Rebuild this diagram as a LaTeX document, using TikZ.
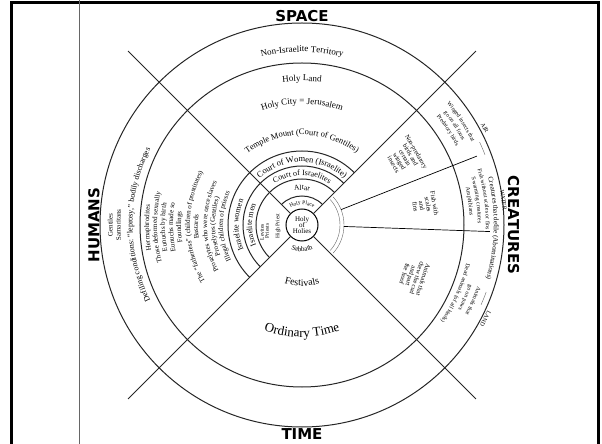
\documentclass[tikz,border=0pt]{standalone}
\usepackage{fontspec}
\setmainfont{Liberation Serif}
\newfontfamily\headfont{DejaVu Sans}
\usetikzlibrary{decorations.text}
\newcommand\fs[1]{\fontsize{#1}{#1}\selectfont}
% clockwise text (letters' tops point outward)
\newcommand\cwtext[5]{\path[decorate,decoration={text along path,text align=center,text={|#4|#5}}] (#2+#3:#1) arc[start angle=#2+#3,end angle=#2-#3,radius=#1];}
% counter-clockwise text (letters' tops point inward)
\newcommand\ccwtext[5]{\path[decorate,decoration={text along path,text align=center,text={|#4|#5}}] (#2-#3:#1) arc[start angle=#2-#3,end angle=#2+#3,radius=#1];}
\begin{document}
\begin{tikzpicture}[x=1pt,y=1pt,
  ring/.style={line width=1pt,black!85},
  thin ring/.style={line width=0.4pt,black!60},
  head/.style={font=\headfont\bfseries\fs{15}},
  small/.style={font=\fs{6.5},align=center,inner sep=0pt}]
\useasboundingbox (-302,225) rectangle (300,-219);
% frame
\draw[line width=3pt] (-290,-220) -- (-290,222) -- (296,222) -- (296,-220);
\draw[line width=0.8pt,black!60] (-223,225) -- (-223,-219);
% circles
\draw[ring] (0,0) circle (202);
\draw[ring] (0,0) circle (162);
\node[circle,draw,line width=1pt,minimum size=32pt,inner sep=0pt,align=center,font=\fs{7}] (hoh) at (0,0) {Holy\\[-1pt]of\\[-1pt]Holies};
% diagonals
\foreach \a in {45,135,225,315} \draw[ring] (\a:16) -- (\a:246);
% inner arcs
\draw[ring] (45:74) arc[start angle=45,end angle=225,radius=74];
\draw[ring] (45:59) arc[start angle=45,end angle=225,radius=59];
\draw[ring] (45:46) arc[start angle=45,end angle=225,radius=46];
\draw[ring] (45:29) arc[start angle=45,end angle=135,radius=29];
% right inner double arc
\draw[thin ring] (42:38) arc[start angle=42,end angle=-42,radius=38];
\draw[thin ring] (42:42) arc[start angle=42,end angle=-42,radius=42];
% right sector dividers
\draw[line width=0.7pt] (21.5:42) -- (21.5:188);
\draw[line width=0.7pt] (-2:42) -- (-2:188);
% headings
\node[head] (space) at (0,209) {SPACE};
\node[head] (time) at (0,-209) {TIME};
\node[head,rotate=90] (humans) at (-208,0) {HUMANS};
\node[head,rotate=-90] (creatures) at (211.5,0) {CREATURES};
% SPACE sector
\cwtext{173}{90}{60}{\fs{9}}{Non-Israelite Territory}
\cwtext{144}{90}{60}{\fs{9}}{Holy Land}
\cwtext{121}{90}{60}{\fs{9}}{Holy City = Jerusalem}
\cwtext{90}{90}{80}{\fs{8.5}}{Temple Mount (Court of Gentiles)}
\cwtext{63}{90}{80}{\fs{8.5}}{Court of Women (Israelite)}
\cwtext{49.5}{90}{80}{\fs{8}}{Court of Israelites}
\cwtext{35}{90}{60}{\fs{7.5}}{Altar}
\cwtext{20.5}{90}{80}{\fs{5.5}}{Holy Place}
% HUMANS sector
\cwtext{189.5}{180}{40}{\fs{7}}{Gentiles}
\cwtext{181.5}{180}{40}{\fs{7}}{Samaritans}
\cwtext{169.5}{180}{40}{\fs{8}}{Defiling conditions: “leprosy,” bodily discharges}
\cwtext{153}{181}{40}{\fs{7}}{Hermaphrodites}
\cwtext{145}{181}{40}{\fs{7}}{Those deformed sexually}
\cwtext{137}{181}{40}{\fs{7}}{Eunuchs by birth}
\cwtext{129}{181}{40}{\fs{7}}{Eunuchs made so}
\cwtext{121}{181}{40}{\fs{7}}{Foundlings}
\cwtext{112}{181}{40}{\fs{7}}{The “fatherless” (children of prostitutes)}
\cwtext{104}{181}{40}{\fs{7}}{Bastards}
\cwtext{95}{181}{40}{\fs{7}}{Proselytes who were once slaves}
\cwtext{87}{181}{40}{\fs{7}}{Proselytes (Gentiles)}
\cwtext{79}{181}{40}{\fs{7}}{Illegal children of priests}
\cwtext{63.5}{180}{40}{\fs{8}}{Israelite women}
\cwtext{50}{180}{40}{\fs{8}}{Israelite men}
\node[small,font=\fs{5.5},rotate=90] (lev) at (-40,-7) {Levites};
\node[small,font=\fs{5.5},rotate=90] (pri) at (-35,-6) {Priests};
\node[small,font=\fs{5.5},rotate=90] (hpr) at (-24,-1) {High Priest};
% TIME sector
\ccwtext{26.5}{270}{60}{\fs{7}}{Sabbath}
\ccwtext{61}{270}{60}{\fs{10}}{Festivals}
\ccwtext{112}{270}{60}{\fs{13}}{Ordinary Time}
% CREATURES sector
\node[small,rotate=-60] (birds) at (103,67) {Non-predatory\\birds and\\certain\\winged\\insects};
\node[small,rotate=-80] (fish) at (123,20) {Fish with\\scales\\and\\fins};
\node[small,rotate=-108] (animals) at (112,-52) {Animals that\\chew the cud\\and part\\the hoof};
\cwtext{189}{33}{20}{\fs{5.8}}{Winged insects that}
\cwtext{181}{33}{20}{\fs{5.8}}{go on all fours}
\cwtext{173}{33}{20}{\fs{5.8}}{Predatory birds}
\cwtext{184}{8}{20}{\fs{5.8}}{Fish without scales or fins}
\cwtext{176}{8}{20}{\fs{5.8}}{Swarming creatures}
\cwtext{168}{8}{20}{\fs{5.8}}{Amphibians}
\cwtext{186}{-24}{25}{\fs{5.8}}{Animals that}
\cwtext{177.5}{-24}{25}{\fs{5.8}}{go on paws}
\cwtext{169}{-24}{25}{\fs{5.8}}{Dead animals (of all kinds)}
\cwtext{192}{-1}{30}{\fs{7}}{Creatures that defile (Abominations)}
\node[font=\fs{6},rotate=-62] (air) at (28:207) {AIR};
\node[font=\fs{6},rotate=-82] (water) at (7:203) {WATER};
\node[font=\fs{6},rotate=-117] (land) at (-27:206) {LAND};
\draw[thin ring] (25:196) arc[start angle=25,end angle=21,radius=196];
\draw[thin ring] (-20:196) arc[start angle=-20,end angle=-24,radius=196];
\end{tikzpicture}
\end{document}
